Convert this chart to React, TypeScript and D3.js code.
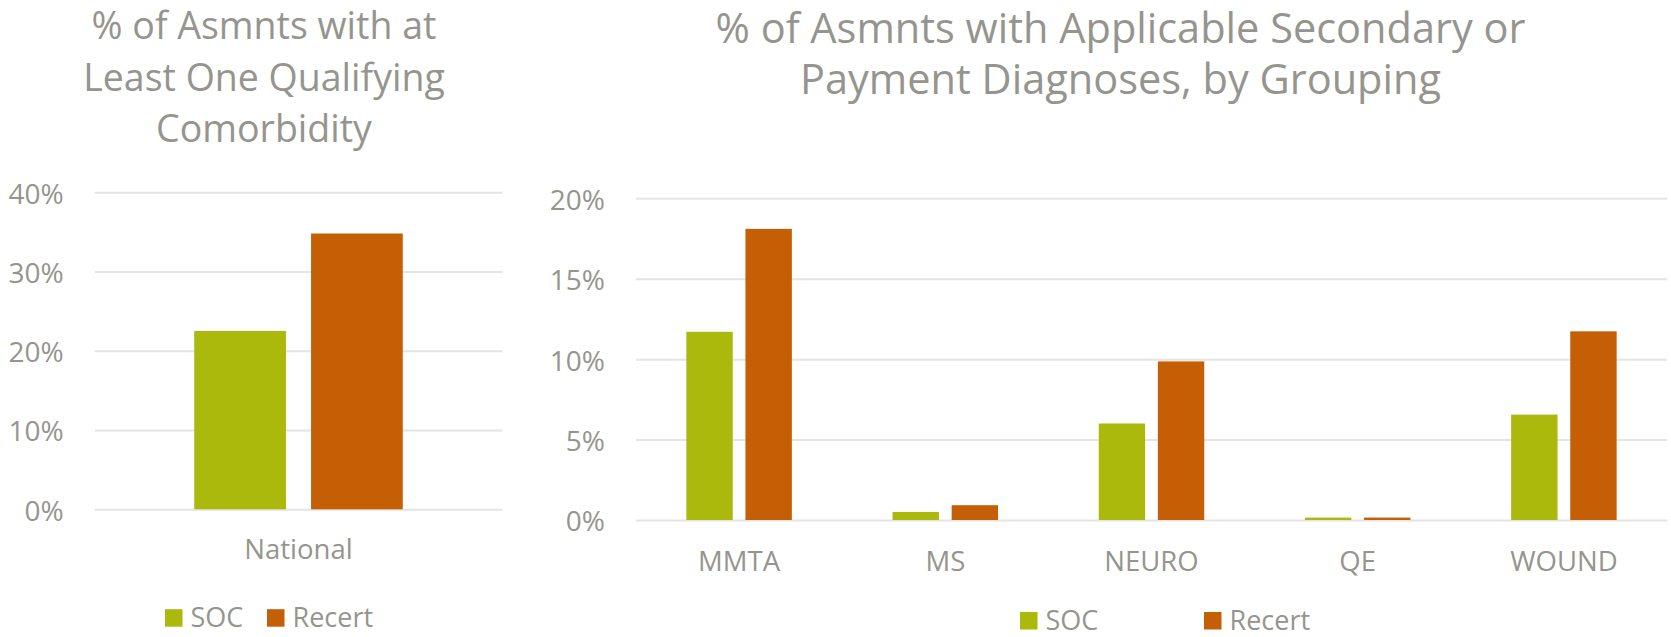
import { useEffect, useRef } from "react";
import * as d3 from "d3";

// series
const seriesNames = ["SOC", "Recert"];
const seriesColors = ["#AAB90B", "#C55F05"];

// left chart: national
const nationalCategories = ["National"];
const nationalSoc = [22.5];
const nationalRecert = [34.8];
const nationalTicks = [0, 10, 20, 30, 40];
const nationalTitle = ["% of Asmnts with at", "Least One Qualifying", "Comorbidity"];

// right chart: by grouping
const groupCategories = ["MMTA", "MS", "NEURO", "QE", "WOUND"];
const groupSoc = [11.7, 0.5, 6.0, 0.15, 6.55];
const groupRecert = [18.1, 0.92, 9.86, 0.15, 11.73];
const groupTicks = [0, 5, 10, 15, 20];
const groupTitle = ["% of Asmnts with Applicable Secondary or", "Payment Diagnoses, by Grouping"];

const FONT = "'Open Sans', sans-serif";
const TEXT = "#95958D";
const GRID = "#E4E4E4";

type ChartOpts = {
  categories: string[];
  soc: number[];
  recert: number[];
  ticks: number[];
  title: string[];
  x0: number;
  x1: number;
  y0: number;
  y1: number;
  titleX: number;
  titleY: number;
  titleSize: number;
  titleLead: number;
  labelY: number;
  legendX: number;
  legendY: number;
  legendStep: number;
};

function drawChart(svg: any, o: ChartOpts) {
  const g = svg.append("g");

  const x = d3.scaleBand().domain(o.categories).range([o.x0, o.x1]);
  const xs = d3
    .scaleBand()
    .domain(seriesNames)
    .range([0, x.bandwidth()])
    .paddingInner(0.215)
    .paddingOuter(0.852);
  const y = d3
    .scaleLinear()
    .domain([0, o.ticks[o.ticks.length - 1]])
    .range([o.y0, o.y1]);

  // gridlines + y labels
  const yAxis = d3
    .axisLeft(y)
    .tickValues(o.ticks)
    .tickSize(-(o.x1 - o.x0))
    .tickPadding(31)
    .tickFormat((d: any) => `${d}%`);
  const ya = g.append("g").attr("transform", `translate(${o.x0},0)`).call(yAxis);
  ya.select(".domain").remove();
  ya.selectAll("line").attr("stroke", GRID).attr("stroke-width", 2);
  ya.selectAll("text")
    .attr("dy", "0.39em")
    .attr("font-family", FONT)
    .attr("font-size", 28)
    .attr("fill", TEXT);

  // bars
  [o.soc, o.recert].forEach((vals, si) => {
    g.append("g")
      .selectAll("rect")
      .data(vals)
      .join("rect")
      .attr("x", (_d: number, i: number) => x(o.categories[i])! + xs(seriesNames[si])!)
      .attr("y", (d: number) => y(d))
      .attr("width", xs.bandwidth())
      .attr("height", (d: number) => y(0) - y(d))
      .attr("fill", seriesColors[si]);
  });

  // category labels
  const xAxis = d3.axisBottom(x).tickSize(0);
  const xa = g.append("g").attr("transform", `translate(0,${o.y0})`).call(xAxis);
  xa.select(".domain").remove();
  xa.selectAll("text")
    .attr("y", o.labelY - o.y0)
    .attr("dy", 0)
    .attr("font-family", FONT)
    .attr("font-size", 27.5)
    .attr("fill", TEXT);

  // title
  g.append("text")
    .attr("font-family", FONT)
    .attr("font-size", o.titleSize)
    .attr("fill", TEXT)
    .attr("text-anchor", "middle")
    .selectAll("tspan")
    .data(o.title)
    .join("tspan")
    .attr("x", o.titleX)
    .attr("y", (_d: string, i: number) => o.titleY + i * o.titleLead)
    .text((d: string) => d);

  // legend
  const lg = g
    .append("g")
    .selectAll("g")
    .data(seriesNames)
    .join("g")
    .attr("transform", (_d: string, i: number) => `translate(${o.legendX + i * o.legendStep},${o.legendY})`);
  lg.append("rect")
    .attr("x", 0)
    .attr("y", -17.5)
    .attr("width", 17.5)
    .attr("height", 17.5)
    .attr("fill", (_d: string, i: number) => seriesColors[i]);
  lg.append("text")
    .attr("x", 25.5)
    .attr("font-family", FONT)
    .attr("font-size", 27)
    .attr("fill", TEXT)
    .text((d: string) => d);
}

export default function App() {
  const svgRef = useRef<SVGSVGElement>(null);

  useEffect(() => {
    const svg = d3.select(svgRef.current);
    svg.selectAll("*").remove();

    drawChart(svg, {
      categories: nationalCategories,
      soc: nationalSoc,
      recert: nationalRecert,
      ticks: nationalTicks,
      title: nationalTitle,
      x0: 94.7,
      x1: 502.3,
      y0: 509.3,
      y1: 192.3,
      titleX: 264,
      titleY: 39.4,
      titleSize: 37.5,
      titleLead: 51.2,
      labelY: 559.3,
      legendX: 165,
      legendY: 626.7,
      legendStep: 102,
    });

    drawChart(svg, {
      categories: groupCategories,
      soc: groupSoc,
      recert: groupRecert,
      ticks: groupTicks,
      title: groupTitle,
      x0: 636,
      x1: 1667,
      y0: 520,
      y1: 198.3,
      titleX: 1120.5,
      titleY: 43,
      titleSize: 41.5,
      titleLead: 51,
      labelY: 571,
      legendX: 1020,
      legendY: 629.5,
      legendStep: 184,
    });
  }, []);

  return (
    <svg
      ref={svgRef}
      width={1671}
      height={637}
      style={{ position: "absolute", left: 0, top: 0, background: "#fff" }}
    />
  );
}
